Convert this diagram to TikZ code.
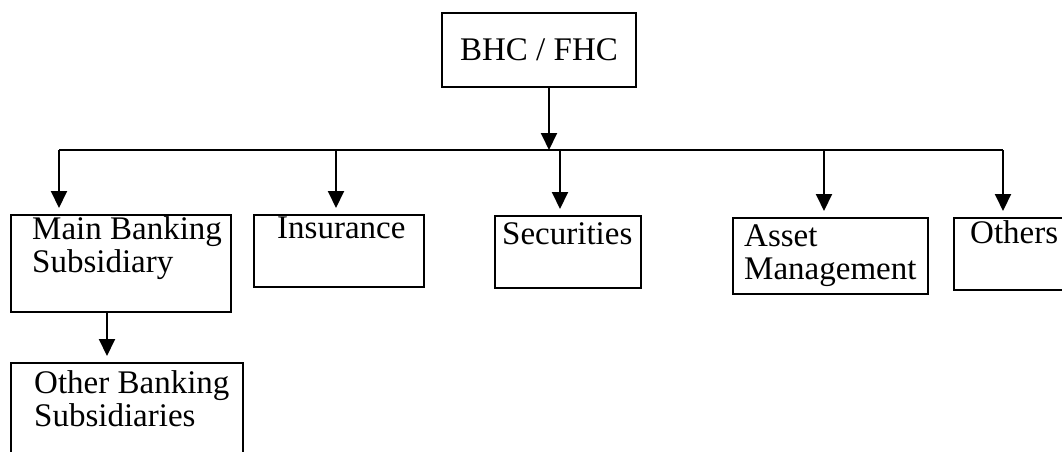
\documentclass[tikz,border=0pt]{standalone}
\usepackage{fontspec}
\setmainfont{Liberation Serif}
\usetikzlibrary{arrows.meta}
\begin{document}
\begin{tikzpicture}[x=1pt,y=-1pt,
  box/.style={draw, line width=2pt, rectangle, inner sep=0pt, anchor=north west},
  lbl/.style={inner sep=0pt, anchor=north west, align=left, font=\fontsize{33}{33}\selectfont},
  arr/.style={line width=2pt, -{Triangle[length=17pt,width=16pt]}, shorten >=6pt},
  ln/.style={line width=2pt}]
\useasboundingbox (0,0) rectangle (1062,452);
\clip (0,0) rectangle (1062,452);
\fill[white] (0,0) rectangle (1062,452);

% boxes
\node[box, anchor=center, minimum width=194pt, minimum height=74pt, font=\fontsize{33}{33}\selectfont] (bhc) at (539,50) {BHC / FHC};
\node[box, minimum width=220pt, minimum height=97pt] (main) at (10,214) {};
\node[box, minimum width=232pt, minimum height=120pt] (other) at (10,362) {};
\node[box, minimum width=170pt, minimum height=72pt] (ins) at (253,214) {};
\node[box, minimum width=146pt, minimum height=72pt] (sec) at (494,215) {};
\node[box, minimum width=195pt, minimum height=76pt] (asset) at (732,217) {};
\node[box, minimum width=115pt, minimum height=72pt] (others) at (953,217) {};

% texts
\node[lbl] (mainT) at ([xshift=22pt,yshift=-1.9pt]main.north west) {\strut Main Banking\\\strut Subsidiary};
\node[lbl] (otherT) at ([xshift=24pt,yshift=-7.9pt]other.north west) {\strut Other Banking\\\strut Subsidiaries};
\node[lbl] (insT) at ([xshift=24pt,yshift=-0.9pt]ins.north west) {\strut Insurance};
\node[lbl] (secT) at ([xshift=8pt,yshift=-5.9pt]sec.north west) {\strut Securities};
\node[lbl] (assetT) at ([xshift=12pt,yshift=-5.9pt]asset.north west) {\strut Asset\\\strut Management};
\node[lbl] (othersT) at ([xshift=17pt,yshift=-2.9pt]others.north west) {\strut Others};

% bus
\coordinate (jl) at (59,150);
\coordinate (jr) at (1003,150);
\coordinate (jt) at (549,150);
\coordinate (jins) at (336,150);
\coordinate (jsec) at (560,150);
\coordinate (jasset) at (824,150);
\draw[ln] (jl) -- (jr);
\draw[arr, shorten >=0pt] (jt |- bhc.south) -- (jt);
\draw[arr] (jl) -- (jl |- main.north);
\draw[arr] (jins) -- (jins |- ins.north);
\draw[arr] (jsec) -- (jsec |- sec.north);
\draw[arr] (jasset) -- (jasset |- asset.north);
\draw[arr] (jr) -- (jr |- others.north);
\draw[arr] ([xshift=97pt]main.south west) -- ([xshift=97pt]main.south west |- other.north);
\end{tikzpicture}
\end{document}
